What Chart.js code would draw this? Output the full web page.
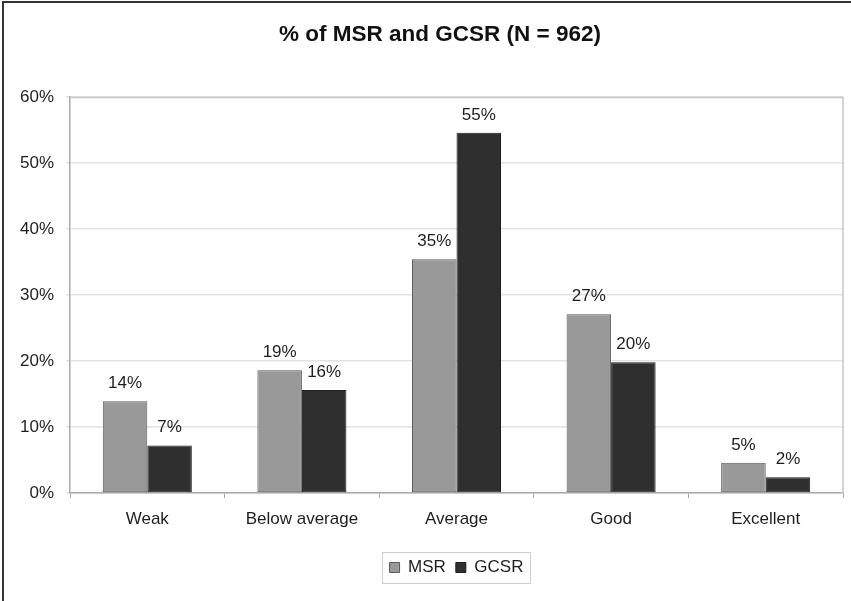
<!DOCTYPE html>
<html>
<head>
<meta charset="utf-8">
<script src="https://cdn.jsdelivr.net/npm/chart.js@4.4.1/dist/chart.umd.min.js"></script>
<style>
    html, body { margin: 0; padding: 0; background: #fff; }
    #wrap { width: 851px; height: 601px; }
</style>
</head>
<body>
<div id="wrap"><canvas id="ratingChart" width="851" height="601"></canvas></div>
<script>
const categories = ['Weak', 'Below average', 'Average', 'Good', 'Excellent'];
const msrValues = [13.9, 18.6, 35.4, 27.1, 4.6];
const gcsrValues = [7.2, 15.6, 54.6, 19.8, 2.4];
const yTicks = [0, 10, 20, 30, 40, 50, 60];

const FONT = '"Liberation Sans", Arial, sans-serif';

// frame, plot border, value labels and legend box
const decorations = {
    id: 'decorations',
    afterLayout(chart) {
        // the title sits a little left of the plot centre in the original
        const t = chart.titleBlock;
        t.left = 37;
        t.width = t.right - t.left;
    },
    beforeDraw(chart) {
        const ctx = chart.ctx;
        ctx.save();
        ctx.fillStyle = '#fff';
        ctx.fillRect(0, 0, chart.width, chart.height);
        ctx.restore();
    },
    beforeDatasetsDraw(chart) {
        const ctx = chart.ctx;
        const a = chart.chartArea;
        ctx.save();
        ctx.strokeStyle = '#c8c8c8';
        ctx.lineWidth = 1.5;
        ctx.beginPath();
        ctx.moveTo(a.left, a.top + 0.5);
        ctx.lineTo(a.right, a.top + 0.5);
        ctx.lineTo(a.right, a.bottom);
        ctx.stroke();
        ctx.restore();
    },
    afterDatasetsDraw(chart) {
        const ctx = chart.ctx;
        ctx.save();
        ctx.font = '17px ' + FONT;
        ctx.fillStyle = '#1e1e1e';
        ctx.textAlign = 'center';
        ctx.textBaseline = 'alphabetic';
        chart.data.datasets.forEach((ds, i) => {
            chart.getDatasetMeta(i).data.forEach((bar, j) => {
                ctx.fillText(Math.round(ds.data[j]) + '%', bar.x, bar.y - 13);
            });
        });
        ctx.restore();
    },
    afterDraw(chart) {
        const ctx = chart.ctx;
        ctx.save();
        const boxes = chart.legend.legendHitBoxes;
        if (boxes && boxes.length) {
            const left = Math.min(...boxes.map(b => b.left)) - 8;
            const right = Math.max(...boxes.map(b => b.left + b.width)) + 6;
            const top = Math.min(...boxes.map(b => b.top)) - 7;
            const bottom = Math.max(...boxes.map(b => b.top + b.height)) + 7;
            ctx.strokeStyle = '#d0d0d0';
            ctx.lineWidth = 1;
            ctx.strokeRect(Math.round(left) + 0.5, Math.round(top) + 0.5, Math.round(right - left), Math.round(bottom - top));
        }
        ctx.strokeStyle = '#333';
        ctx.lineWidth = 2;
        ctx.beginPath();
        ctx.moveTo(3, chart.height);
        ctx.lineTo(3, 2);
        ctx.lineTo(chart.width, 2);
        ctx.stroke();
        ctx.restore();
    }
};

const ctx = document.getElementById('ratingChart').getContext('2d');
new Chart(ctx, {
    type: 'bar',
    data: {
        labels: categories,
        datasets: [{
            label: 'MSR',
            data: msrValues,
            backgroundColor: '#999999',
            borderColor: '#5a5a5a',
            borderWidth: 1,
            borderSkipped: false
        }, {
            label: 'GCSR',
            data: gcsrValues,
            backgroundColor: '#2f2f2f',
            borderColor: '#1f1f1f',
            borderWidth: 1,
            borderSkipped: false
        }]
    },
    options: {
        responsive: false,
        animation: false,
        devicePixelRatio: 1,
        layout: {
            padding: { left: 3, right: 8, top: 0, bottom: 15 }
        },
        datasets: {
            bar: { categoryPercentage: 0.576, barPercentage: 1 }
        },
        plugins: {
            title: {
                display: true,
                text: '% of MSR and GCSR (N = 962)',
                color: '#111',
                font: { family: FONT, size: 22.5, weight: 'bold' },
                padding: { top: 21, bottom: 49 }
            },
            legend: {
                position: 'bottom',
                fullSize: false,
                labels: {
                    color: '#1e1e1e',
                    font: { family: FONT, size: 17 },
                    boxWidth: 10,
                    boxHeight: 10,
                    padding: 10
                }
            },
            tooltip: { enabled: false }
        },
        scales: {
            x: {
                afterFit(scale) { scale.height = 56; },
                grid: {
                    drawOnChartArea: false,
                    color: '#aaaaaa',
                    tickLength: 5
                },
                border: { color: '#aaaaaa', width: 1.5 },
                ticks: {
                    color: '#1e1e1e',
                    font: { family: FONT, size: 17 },
                    padding: 11,
                    maxRotation: 0
                }
            },
            y: {
                min: 0,
                max: 60,
                afterFit(scale) { scale.width = 67; },
                afterBuildTicks(scale) {
                    scale.ticks = yTicks.map(v => ({ value: v }));
                },
                grid: {
                    color: '#e2e2e2',
                    lineWidth: 1.5,
                    tickLength: 4
                },
                border: { color: '#aaaaaa', width: 1.5 },
                ticks: {
                    color: '#1e1e1e',
                    font: { family: FONT, size: 17 },
                    padding: 12,
                    callback: v => v + '%'
                }
            }
        }
    },
    plugins: [decorations]
});
</script>
</body>
</html>
